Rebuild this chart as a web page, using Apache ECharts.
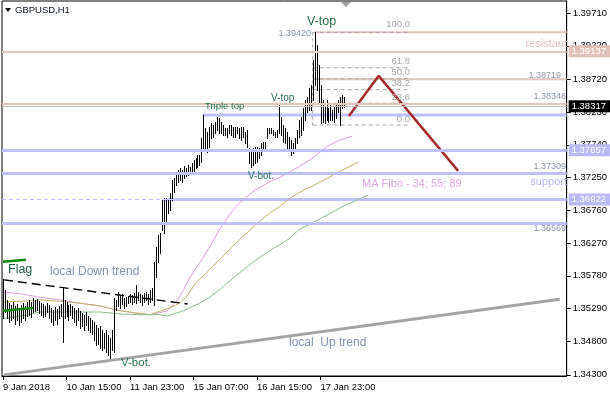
<!DOCTYPE html>
<html><head><meta charset="utf-8">
<script src="https://cdn.jsdelivr.net/npm/echarts@6/dist/echarts.min.js"></script>
<style>html,body{margin:0;padding:0;background:#fff}#c{width:610px;height:400px}</style>
</head><body><div id="c"></div>
<script>
// ---- data (GBPUSD H1, bar index 0 = 9 Jan 07:00) ----
const highs = [
1.3573,1.3557,1.3542,1.3537,1.3534,1.3539,1.3533,1.3536,1.3530,1.3534,
1.3537,1.3533,1.3539,1.3542,1.3539,1.3545,1.3542,1.3543,1.3540,1.3537,
1.3536,1.3533,1.3537,1.3534,1.3530,1.3527,1.3531,1.3528,1.3533,1.3536,
1.3561,1.3542,1.3539,1.3534,1.3536,1.3533,1.3530,1.3527,1.3530,1.3526,
1.3523,1.3520,1.3524,1.3518,1.3515,1.3512,1.3509,1.3505,1.3500,1.3503,
1.3497,1.3492,1.3497,1.3489,1.3485,1.3497,1.3545,1.3542,1.3554,1.3548,
1.3551,1.3545,1.3546,1.3548,1.3551,1.3549,1.3552,1.3564,1.3554,1.3551,
1.3549,1.3552,1.3554,1.3551,1.3557,1.3560,1.3599,1.3621,1.3639,1.3642,
1.3691,1.3694,1.3694,1.3691,1.3702,1.3721,1.3724,1.3733,1.3736,1.3739,
1.3736,1.3742,1.3739,1.3744,1.3741,1.3747,1.3751,1.3754,1.3759,1.3759,
1.3784,1.3819,1.3799,1.3793,1.3801,1.3807,1.3804,1.3808,1.3816,1.3814,
1.3808,1.3804,1.3799,1.3799,1.3804,1.3804,1.3801,1.3801,1.3801,1.3799,
1.3801,1.3801,1.3793,1.3796,1.3769,1.3766,1.3769,1.3771,1.3771,1.3769,
1.3777,1.3778,1.3778,1.3799,1.3799,1.3799,1.3796,1.3793,1.3796,1.3836,
1.3816,1.3804,1.3799,1.3793,1.3786,1.3781,1.3777,1.3784,1.3796,1.3811,
1.3816,1.3829,1.3841,1.3845,1.3859,1.3863,1.3901,1.3942,1.3923,1.3893,
1.3863,1.3841,1.3830,1.3841,1.3829,1.3833,1.3826,1.3830,1.3836,1.3841,
1.3845,1.3848,1.3845];
const lows = [
1.3515,1.3524,1.3515,1.3509,1.3512,1.3515,1.3506,1.3512,1.3505,1.3509,
1.3515,1.3512,1.3518,1.3520,1.3517,1.3524,1.3526,1.3527,1.3522,1.3520,
1.3517,1.3518,1.3524,1.3515,1.3509,1.3505,1.3512,1.3506,1.3515,1.3518,
1.3479,1.3515,1.3518,1.3512,1.3520,1.3515,1.3509,1.3505,1.3512,1.3500,
1.3503,1.3497,1.3505,1.3497,1.3494,1.3491,1.3482,1.3475,1.3476,1.3470,
1.3467,1.3470,1.3464,1.3460,1.3455,1.3467,1.3464,1.3527,1.3533,1.3530,
1.3536,1.3530,1.3533,1.3537,1.3539,1.3536,1.3539,1.3537,1.3542,1.3539,
1.3534,1.3539,1.3542,1.3536,1.3539,1.3542,1.3534,1.3576,1.3599,1.3612,
1.3647,1.3642,1.3659,1.3672,1.3677,1.3691,1.3703,1.3714,1.3718,1.3721,
1.3718,1.3724,1.3727,1.3729,1.3732,1.3733,1.3733,1.3739,1.3741,1.3744,
1.3748,1.3766,1.3766,1.3763,1.3771,1.3784,1.3786,1.3792,1.3796,1.3792,
1.3792,1.3789,1.3789,1.3786,1.3792,1.3789,1.3786,1.3786,1.3792,1.3784,
1.3781,1.3786,1.3777,1.3771,1.3747,1.3741,1.3744,1.3747,1.3748,1.3754,
1.3759,1.3766,1.3769,1.3784,1.3792,1.3792,1.3789,1.3786,1.3786,1.3792,
1.3789,1.3778,1.3777,1.3769,1.3766,1.3759,1.3762,1.3769,1.3777,1.3786,
1.3789,1.3796,1.3811,1.3823,1.3826,1.3826,1.3841,1.3863,1.3856,1.3836,
1.3807,1.3808,1.3807,1.3811,1.3808,1.3811,1.3811,1.3808,1.3814,1.3823,
1.3804,1.3829,1.3830];

const timeTicks  = [0, 32, 64, 96, 128, 160];
const timeLabels = ['9 Jan 2018','10 Jan 15:00','11 Jan 23:00','15 Jan 07:00','16 Jan 15:00','17 Jan 23:00'];
const priceTicks = [1.39710,1.39220,1.38720,1.38230,1.37740,1.37250,1.36760,1.36270,1.35780,1.35290,1.34800,1.34300];

const ma34Idx = [0,9,19,29,39,49,59,69,74,79,83,88,91,94,99,104,109,114,119,127,134,142,149,156,163,169,176];
const ma34    = [1.3554,1.3551,1.3546,1.3542,1.3537,1.3533,1.3526,1.3521,1.3520,1.3523,1.3526,1.3542,1.3557,1.3575,1.3597,1.3621,1.3647,1.3669,1.3687,1.3706,1.3718,1.3729,1.3741,1.3754,1.3771,1.3780,1.3787];
const ma55Idx = [0,9,19,29,39,49,59,66,74,83,89,92,97,104,109,114,119,124,129,134,139,144,149,159,169,179];
const ma55    = [1.3539,1.3540,1.3542,1.3540,1.3537,1.3533,1.3526,1.3523,1.3520,1.3529,1.3537,1.3545,1.3567,1.3587,1.3602,1.3617,1.3632,1.3645,1.3659,1.3671,1.3681,1.3693,1.3702,1.3717,1.3733,1.3748];
const ma89Idx = [0,9,19,29,39,49,59,69,79,83,88,91,94,99,104,109,114,119,124,129,134,139,144,149,159,170,184];
const ma89    = [1.3514,1.3518,1.3524,1.3524,1.3524,1.3524,1.3521,1.3520,1.3520,1.3518,1.3523,1.3526,1.3530,1.3537,1.3546,1.3557,1.3570,1.3582,1.3594,1.3605,1.3615,1.3624,1.3633,1.3647,1.3662,1.3680,1.3699];

const upTrend   = [[0.5,1.3430],[280.5,1.3543]];
const downTrend = [[0.5,1.3572],[93,1.3536]];
const flagUpper = [[0,1.3599],[11.5,1.3602]];
const flagLower = [[0,1.3526],[15.3,1.3530]];
const zigzag    = [[174.3,1.3817],[189.3,1.3877],[229.3,1.3735]];

const fibHigh = 1.39420, fibLow = 1.38035;
const fibLevels = [0, 23.6, 38.2, 50, 61.8, 100];
const fibFrom = 156, fibTo = 205;

const bidPrice = 1.38317;
const resistFull = [1.39137, 1.38348];
const beigeRays = [[157,1.39420],[157,1.38719]];
const blueFull = [1.37657, 1.37309, 1.36569];
const blueRays = [[100.5,1.38185],[80.5,1.36922]];
const dashedBlue = 1.36922;

// ---- styles ----
const FONT = 'Liberation Sans';
const BEIGE = '#E2C6BE', BLUE = '#C0C0FF', GREEN_T = '#2a7352', SLATE = '#8494AC', GREYT = '#8a96a8';
const XMAX = 284;

function boxLabel(bg){
  return {show:true, position:'end', distance:2, formatter:p=>Number(p.value).toFixed(5),
    backgroundColor:bg, color:'#fff', padding:[1,6,0,3], fontSize:9.5, fontFamily:FONT, lineHeight:11};
}
const noLabel = {show:false};
const markData = [
  {yAxis:resistFull[0], lineStyle:{color:BEIGE,width:2,type:'solid'}, label:boxLabel('#E0C2BA')},
  {yAxis:resistFull[1], lineStyle:{color:BEIGE,width:2,type:'solid'}, label:noLabel},
  {yAxis:blueFull[0], lineStyle:{color:BLUE,width:3,type:'solid'}, label:boxLabel('#BABAF5')},
  {yAxis:blueFull[1], lineStyle:{color:BLUE,width:3,type:'solid'}, label:noLabel},
  {yAxis:blueFull[2], lineStyle:{color:BLUE,width:3,type:'solid'}, label:noLabel},
  {yAxis:dashedBlue, lineStyle:{color:BLUE,width:1,type:[4,3]}, label:boxLabel('#BABAF5')},
  {yAxis:bidPrice, lineStyle:{color:'#C0C0C0',width:1,type:'solid'}, label:boxLabel('#000')}
];

function lineSeries(data, color, width, type, z){
  return {type:'line', data, symbol:'none', silent:true, animation:false, z:z||2,
    lineStyle:{color, width, type:type||'solid'}};
}
const pairs = (idx, vals) => idx.map((x,k)=>[x, vals[k]]);

const series = [];
const up = lineSeries(upTrend, '#A4A4A4', 3, 'solid', 2);
up.markLine = {symbol:'none', silent:true, animation:false, precision:5, data:markData, label:{show:false}};
series.push(up);
beigeRays.forEach(r => series.push(lineSeries([r,[XMAX,r[1]]], BEIGE, 2, 'solid', 1)));
blueRays.forEach(r => series.push(lineSeries([r,[XMAX,r[1]]], BLUE, 3, 'solid', 1)));
fibLevels.forEach(l => {
  const v = fibLow + (fibHigh - fibLow) * l / 100;
  series.push(lineSeries([[fibFrom, v],[fibTo, v]], '#A8A8A8', 1, [4,3], 2));
});
series.push(lineSeries([[fibFrom, fibHigh],[fibFrom, fibLow]], '#A8A8A8', 1, [3,3], 2));
series.push(lineSeries(pairs(ma34Idx, ma34), '#DDA0DD', 1, 'solid', 2));
series.push(lineSeries(pairs(ma55Idx, ma55), '#C2B464', 1, 'solid', 2));
series.push(lineSeries(pairs(ma89Idx, ma89), '#8FBC8F', 1, 'solid', 2));
series.push(lineSeries(downTrend, '#000', 1.4, [9,5], 4));
series.push(lineSeries(flagUpper, '#128A12', 2.5, 'solid', 4));
series.push(lineSeries(flagLower, '#128A12', 2.5, 'solid', 4));
series.push(lineSeries(zigzag, '#A52A2A', 2.5, 'solid', 4));
series.push({type:'custom', z:3, silent:true, animation:false,
  data: highs.map((h,i)=>[i, h, lows[i]]),
  encode:{x:0, y:[1,2]},
  renderItem:(params, api)=>{
    const a = api.coord([api.value(0), api.value(1)]);
    const b = api.coord([api.value(0), api.value(2)]);
    const px = Math.round(a[0]) + 0.5;
    return {type:'line', shape:{x1:px, y1:Math.round(a[1]), x2:px, y2:Math.round(b[1])+1},
      style:{stroke:'#000', lineWidth:1}};
  }});

function txt(text, x, y, size, fill, align){
  return {type:'text', z:50, silent:true, style:{text, x, y, fontSize:size, fontFamily:FONT,
    fill, textAlign:align||'left', textVerticalAlign:'middle'}};
}
const graphics = [
  {type:'polygon', z:50, shape:{points:[[5,8],[11,8],[8,12]]}, style:{fill:'#000'}},
  txt('GBPUSD,H1', 15, 10, 9.5, '#0c1424'),
  {type:'polygon', z:50, shape:{points:[[341,2],[351,2],[346,7]]}, style:{fill:'#A0A0A0'}},
  txt('V-top', 307, 22, 12.5, GREEN_T),
  txt('1.39420', 311, 34, 9, GREYT, 'right'),
  txt('100.0', 410, 24, 9.5, '#A8A8A8', 'right'),
  txt('61.8', 410, 61, 9.5, '#A8A8A8', 'right'),
  txt('50.0', 410, 72, 9.5, '#A8A8A8', 'right'),
  txt('38.2', 410, 83, 9.5, '#A8A8A8', 'right'),
  txt('23.6', 410, 97, 9.5, '#A8A8A8', 'right'),
  txt('0.0', 410, 119, 9.5, '#A8A8A8', 'right'),
  txt('resistant', 567, 44, 11, '#E4C4C4', 'right'),
  txt('1.38719', 561, 76, 9, GREYT, 'right'),
  txt('1.38348', 566, 97, 9, GREYT, 'right'),
  txt('1.37309', 566, 167, 9, GREYT, 'right'),
  txt('support', 567, 182, 11, '#B8B8F0', 'right'),
  txt('1.36569', 566, 229, 9, GREYT, 'right'),
  txt('MA Fibo - 34; 55; 89', 362, 184, 11, '#E0A8E0'),
  txt('Triple top', 205, 106, 9.5, GREEN_T),
  txt('V-top', 271, 98, 10, GREEN_T),
  txt('V-bot.', 248, 176, 10, GREEN_T),
  txt('V-bot.', 121, 363, 11.5, GREEN_T),
  txt('Flag', 8, 270, 12.5, '#1f5a42'),
  txt('local Down trend', 50, 272, 12, SLATE),
  txt('local  Up trend', 289, 343, 12, SLATE)
];

const chart = echarts.init(document.getElementById('c'), null, {renderer:'canvas'});
chart.setOption({
  animation:false,
  backgroundColor:'#fff',
  grid:{left:1, right:40, top:1, bottom:24, show:true, borderColor:'#000', borderWidth:1, backgroundColor:'#fff'},
  xAxis:{type:'value', min:-0.5, max:XMAX, splitLine:{show:false},
    axisLine:{show:true, lineStyle:{color:'#000'}},
    axisTick:{show:true, length:4, lineStyle:{color:'#000'}, customValues:timeTicks},
    axisLabel:{show:true, customValues:timeTicks, align:'left', margin:6, fontSize:9.5, fontFamily:FONT, color:'#000',
      formatter:v=>timeLabels[timeTicks.indexOf(v)] || ''}},
  yAxis:{type:'value', position:'right', min:1.34283, max:1.39889, scale:true, splitLine:{show:false},
    axisLine:{show:true, onZero:false, lineStyle:{color:'#000'}},
    axisTick:{show:true, length:4, lineStyle:{color:'#000'}, customValues:priceTicks},
    axisLabel:{show:true, customValues:priceTicks, margin:6, fontSize:9.5, fontFamily:FONT, color:'#000',
      formatter:v=>v.toFixed(5)}},
  series,
  graphic:graphics
});
</script></body></html>
